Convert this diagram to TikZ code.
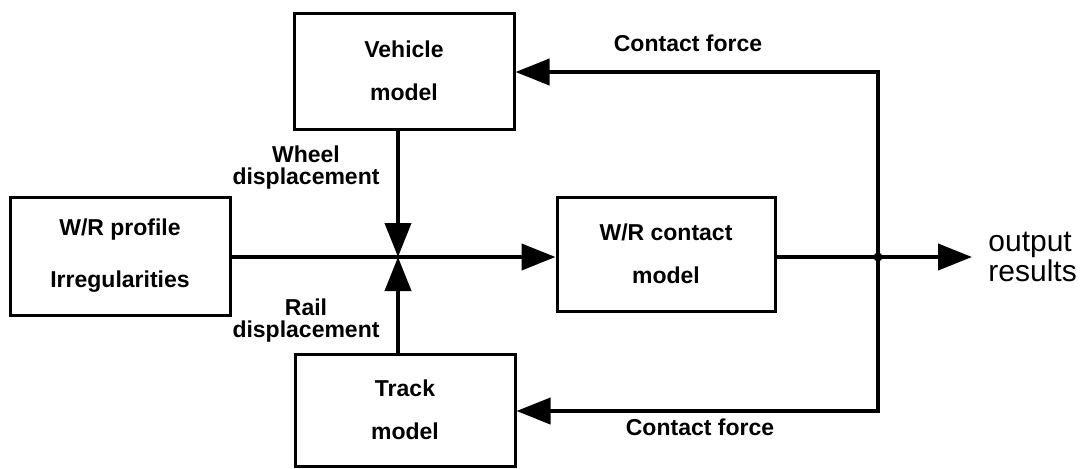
\documentclass[tikz,border=0pt]{standalone}
\usepackage{fontspec}
\setmainfont{Liberation Sans}
\usetikzlibrary{positioning,arrows.meta}
\tikzset{
  blk/.style={draw, line width=1.5pt, align=center, inner sep=2pt,
              font=\bfseries\fontsize{11.5}{21.5}\selectfont,
              minimum width=110pt, minimum height=57pt},
  flow/.style={-{Triangle[length=17pt,width=13pt]}, line width=2pt},
  wire/.style={line width=2pt},
  % labels beside the arrows
  lbl/.style={font=\bfseries\fontsize{11.5}{11}\selectfont, align=center, inner sep=1pt},
}
\newcommand{\outfont}{\fontsize{15}{12.5}\selectfont}

\begin{document}
\begin{tikzpicture}[x=0.5pt, y=-0.5pt]
\useasboundingbox (0,0) rectangle (1083,468);

\node[blk, minimum height=58pt] (veh) at (404,71) {Vehicle\\model};
\node[blk, minimum height=56pt] (trk) at (405,410) {Track\\model};
\node[blk, minimum height=59pt, font=\bfseries\fontsize{11.5}{26}\selectfont]
  (prof) at (120,256) {W/R profile\\Irregularities};
\node[blk, minimum width=109pt] (con) at (666,254) {W/R contact\\model};

\coordinate (jn) at (398,257);
\coordinate (tap) at (878,257);
\coordinate (ctop) at (878,72);
\coordinate (cbot) at (878,411);
\coordinate (outtip) at (972,257);

% displacements meet at the junction
\draw[flow] (veh.south -| jn) -- (jn);
\draw[flow] (trk.north -| jn) -- (jn);
\draw[flow] (prof.east |- jn) -- (con.west |- jn);

% output and feedback
\draw[wire] (con.east |- tap) -- (tap);
\fill (tap) circle (4.5);
\draw[flow] (tap) -- (outtip);
\draw[flow] (cbot) -- (ctop) -- (ctop -| veh.east);
\draw[flow] (ctop) -- (cbot) -- (cbot -| trk.east);

\node[lbl] (wd) at (306,168) {Wheel\\displacement};
\node[lbl] (rd) at (306,321) {Rail\\displacement};
\node[lbl] (cf1) at (688,43) {Contact force};
\node[lbl] (cf2) at (700,427) {Contact force};
\node[font=\outfont, align=left, inner sep=1pt, right=7pt of outtip] (out)
  {output\\results};

\end{tikzpicture}
\end{document}
